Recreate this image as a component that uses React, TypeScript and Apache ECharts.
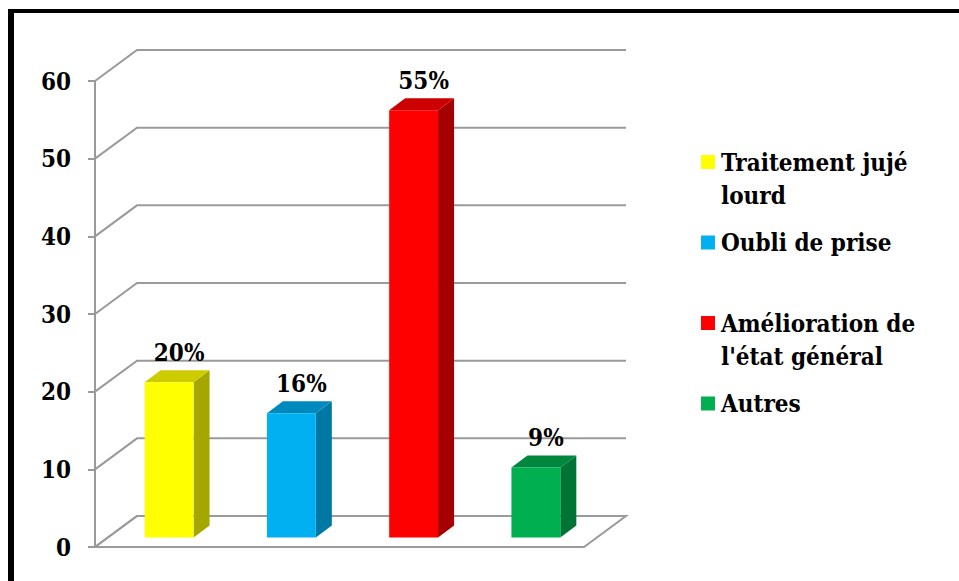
import React, { useEffect, useRef } from "react";
import * as echarts from "echarts";

const categories = ["Traitement jujé lourd", "Oubli de prise", "Amélioration de l'état général", "Autres"];
const legendLabels = ["Traitement jujé\nlourd", "Oubli de prise", "Amélioration de\nl'état général", "Autres"];
const values = [20, 16, 55, 9];
const yTicks = [0, 10, 20, 30, 40, 50, 60];
const frontColors = ["#FFFF00", "#00B0F0", "#FF0000", "#00B050"];
const topColors = ["#CCCC00", "#0089BC", "#CC0000", "#00873E"];
const sideColors = ["#A6A600", "#0078A4", "#A50000", "#007434"];

const FONT = "'DejaVu Serif Condensed', 'DejaVu Serif', serif";
const FS = 24;
const DEPTH_X = 42;
const DEPTH_Y = -31;
const GRID = "#9a9a9a";

export default function App() {
  const ref = useRef<HTMLDivElement>(null);
  useEffect(() => {
    if (!ref.current) return;
    const chart = echarts.init(ref.current, null, { renderer: "svg" });
    const legendGraphics: any[] = [];
    legendLabels.forEach((label, i) => {
      const cy = 162 + i * 80.5;
      legendGraphics.push({
        type: "rect",
        shape: { x: 701, y: cy - 7, width: 14, height: 14 },
        style: { fill: frontColors[i] },
      });
      legendGraphics.push({
        type: "text",
        x: 721,
        y: cy - 16.5,
        style: {
          text: label,
          fill: "#000",
          font: `bold ${FS}px ` + FONT,
          lineHeight: 33,
          verticalAlign: "top",
          align: "left",
        },
      });
    });
    const option: any = {
      animation: false,
      backgroundColor: "#fff",
      textStyle: { fontFamily: FONT },
      grid: { left: 95, top: 81, width: 489, height: 466 },
      xAxis: {
        type: "category",
        data: categories,
        axisLine: { show: false },
        axisTick: { show: false },
        axisLabel: { show: false },
        splitLine: { show: false },
      },
      yAxis: {
        type: "value",
        min: 0,
        max: 60,
        interval: 10,
        axisLine: { show: true, lineStyle: { color: GRID, width: 2 } },
        axisTick: { show: true, length: 7, lineStyle: { color: GRID, width: 2 } },
        splitLine: { show: false },
        axisLabel: {
          color: "#000",
          fontFamily: FONT,
          fontWeight: "bold",
          fontSize: FS,
          margin: 24,
        },
      },
      graphic: [
        { type: "rect", shape: { x: 8, y: 9, width: 6, height: 600 }, style: { fill: "#000" } },
        { type: "rect", shape: { x: 8, y: 9, width: 980, height: 4 }, style: { fill: "#000" } },
        ...legendGraphics,
      ],
      series: [
        {
          type: "custom",
          z: 1,
          data: yTicks.map((v) => [0, v]),
          renderItem: (params: any, api: any) => {
            const cs = params.coordSys;
            const y = api.coord([0, api.value(1)])[1];
            const x0 = cs.x;
            const x1 = cs.x + cs.width;
            const children: any[] = [];
            if (api.value(1) === 0) {
              children.push({
                type: "polygon",
                shape: {
                  points: [
                    [x0, y],
                    [x1, y],
                    [x1 + DEPTH_X, y + DEPTH_Y],
                    [x0 + DEPTH_X, y + DEPTH_Y],
                  ],
                },
                style: { fill: "#fff", stroke: GRID, lineWidth: 2 },
              });
            }
            children.push({
              type: "polyline",
              shape: {
                points: [
                  [x0, y],
                  [x0 + DEPTH_X, y + DEPTH_Y],
                  [x1 + DEPTH_X, y + DEPTH_Y],
                ],
              },
              style: { fill: "none", stroke: GRID, lineWidth: 2 },
            });
            return { type: "group", children };
          },
        },
        {
          type: "custom",
          z: 5,
          data: values.map((v, i) => [i, v]),
          renderItem: (params: any, api: any) => {
            const i = api.value(0);
            const v = api.value(1);
            const top = api.coord([i, v]);
            const base = api.coord([i, 0]);
            const bw = api.size([1, 0])[0] * 0.4;
            const sx = 13;
            const sy = -9.5;
            const dx = 16;
            const dy = -12;
            const xl = top[0] - bw / 2 + sx;
            const xr = top[0] + bw / 2 + sx;
            const yt = top[1] + sy;
            const yb = base[1] + sy;
            return {
              type: "group",
              children: [
                {
                  type: "polygon",
                  shape: { points: [[xr, yt], [xr + dx, yt + dy], [xr + dx, yb + dy], [xr, yb]] },
                  style: { fill: sideColors[i] },
                },
                {
                  type: "polygon",
                  shape: { points: [[xl, yt], [xl + dx, yt + dy], [xr + dx, yt + dy], [xr, yt]] },
                  style: { fill: topColors[i] },
                },
                {
                  type: "rect",
                  shape: { x: xl, y: yt, width: bw, height: yb - yt },
                  style: { fill: frontColors[i] },
                },
                {
                  type: "text",
                  x: top[0] + sx + 10,
                  y: yt + dy - 6,
                  style: {
                    text: `${v}%`,
                    fill: "#000",
                    font: `bold ${FS}px ` + FONT,
                    align: "center",
                    verticalAlign: "bottom",
                  },
                },
              ],
            };
          },
        },
      ],
    };
    chart.setOption(option);
    return () => chart.dispose();
  }, []);
  return (
    <div
      ref={ref}
      style={{ position: "absolute", left: 0, top: 0, width: 959, height: 581 }}
    />
  );
}
